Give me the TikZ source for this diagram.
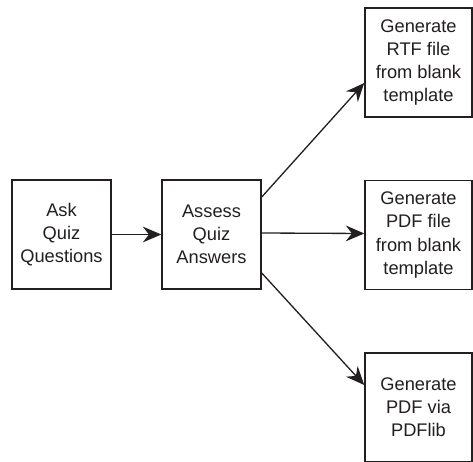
\documentclass[tikz,border=0pt]{standalone}
\usepackage{fontspec}
\setmainfont{Liberation Sans}
\usepackage{tikz}
\usetikzlibrary{arrows.meta, positioning}
\usepackage{xcolor}
\definecolor{inkblack}{HTML}{231F20}
\tikzset{
  stagebox/.style={rectangle, draw=inkblack, line width=0.85pt, fill=white,
                   minimum width=1.98cm, minimum height=2.18cm, inner sep=0pt,
                   align=center, text=inkblack,
                   font=\fontsize{10.4}{13.2}\selectfont},
  outbox/.style={stagebox, minimum width=2.14cm},
  flow/.style={-{Stealth[length=10.5pt, width=9pt, inset=3.5pt]},
               line width=0.75pt, draw=inkblack},
}
\begin{document}
\begin{tikzpicture}[x=1cm, y=1cm]
  \useasboundingbox (0,0) rectangle (9.46,-9.24);
  % --- Quiz stages ---
  \node[stagebox] (ask)    at (1.23, -4.69) {Ask\\Quiz\\Questions};
  \node[stagebox] (assess) at (4.23, -4.69) {Assess\\Quiz\\Answers};

  % --- Output generators ---
  \node[outbox] (rtf)      at (8.37, -1.25) {Generate\\RTF file\\from blank\\template};
  \node[outbox] (pdfblank) at (8.37, -4.70) {Generate\\PDF file\\from blank\\template};
  \node[outbox] (pdflib)   at (8.37, -8.15) {Generate\\PDF via\\PDFlib};

  % --- Flow ---
  \draw[flow] (ask.east) -- (assess.west);
  \draw[flow] ([yshift=0.75cm]assess.east)  -- ([yshift=-0.41cm]rtf.west);
  \draw[flow] ([yshift=0.03cm]assess.east) -- ([yshift=0.03cm]pdfblank.west);
  \draw[flow] ([yshift=-0.77cm]assess.east) -- ([yshift=0.45cm]pdflib.west);
\end{tikzpicture}
\end{document}
